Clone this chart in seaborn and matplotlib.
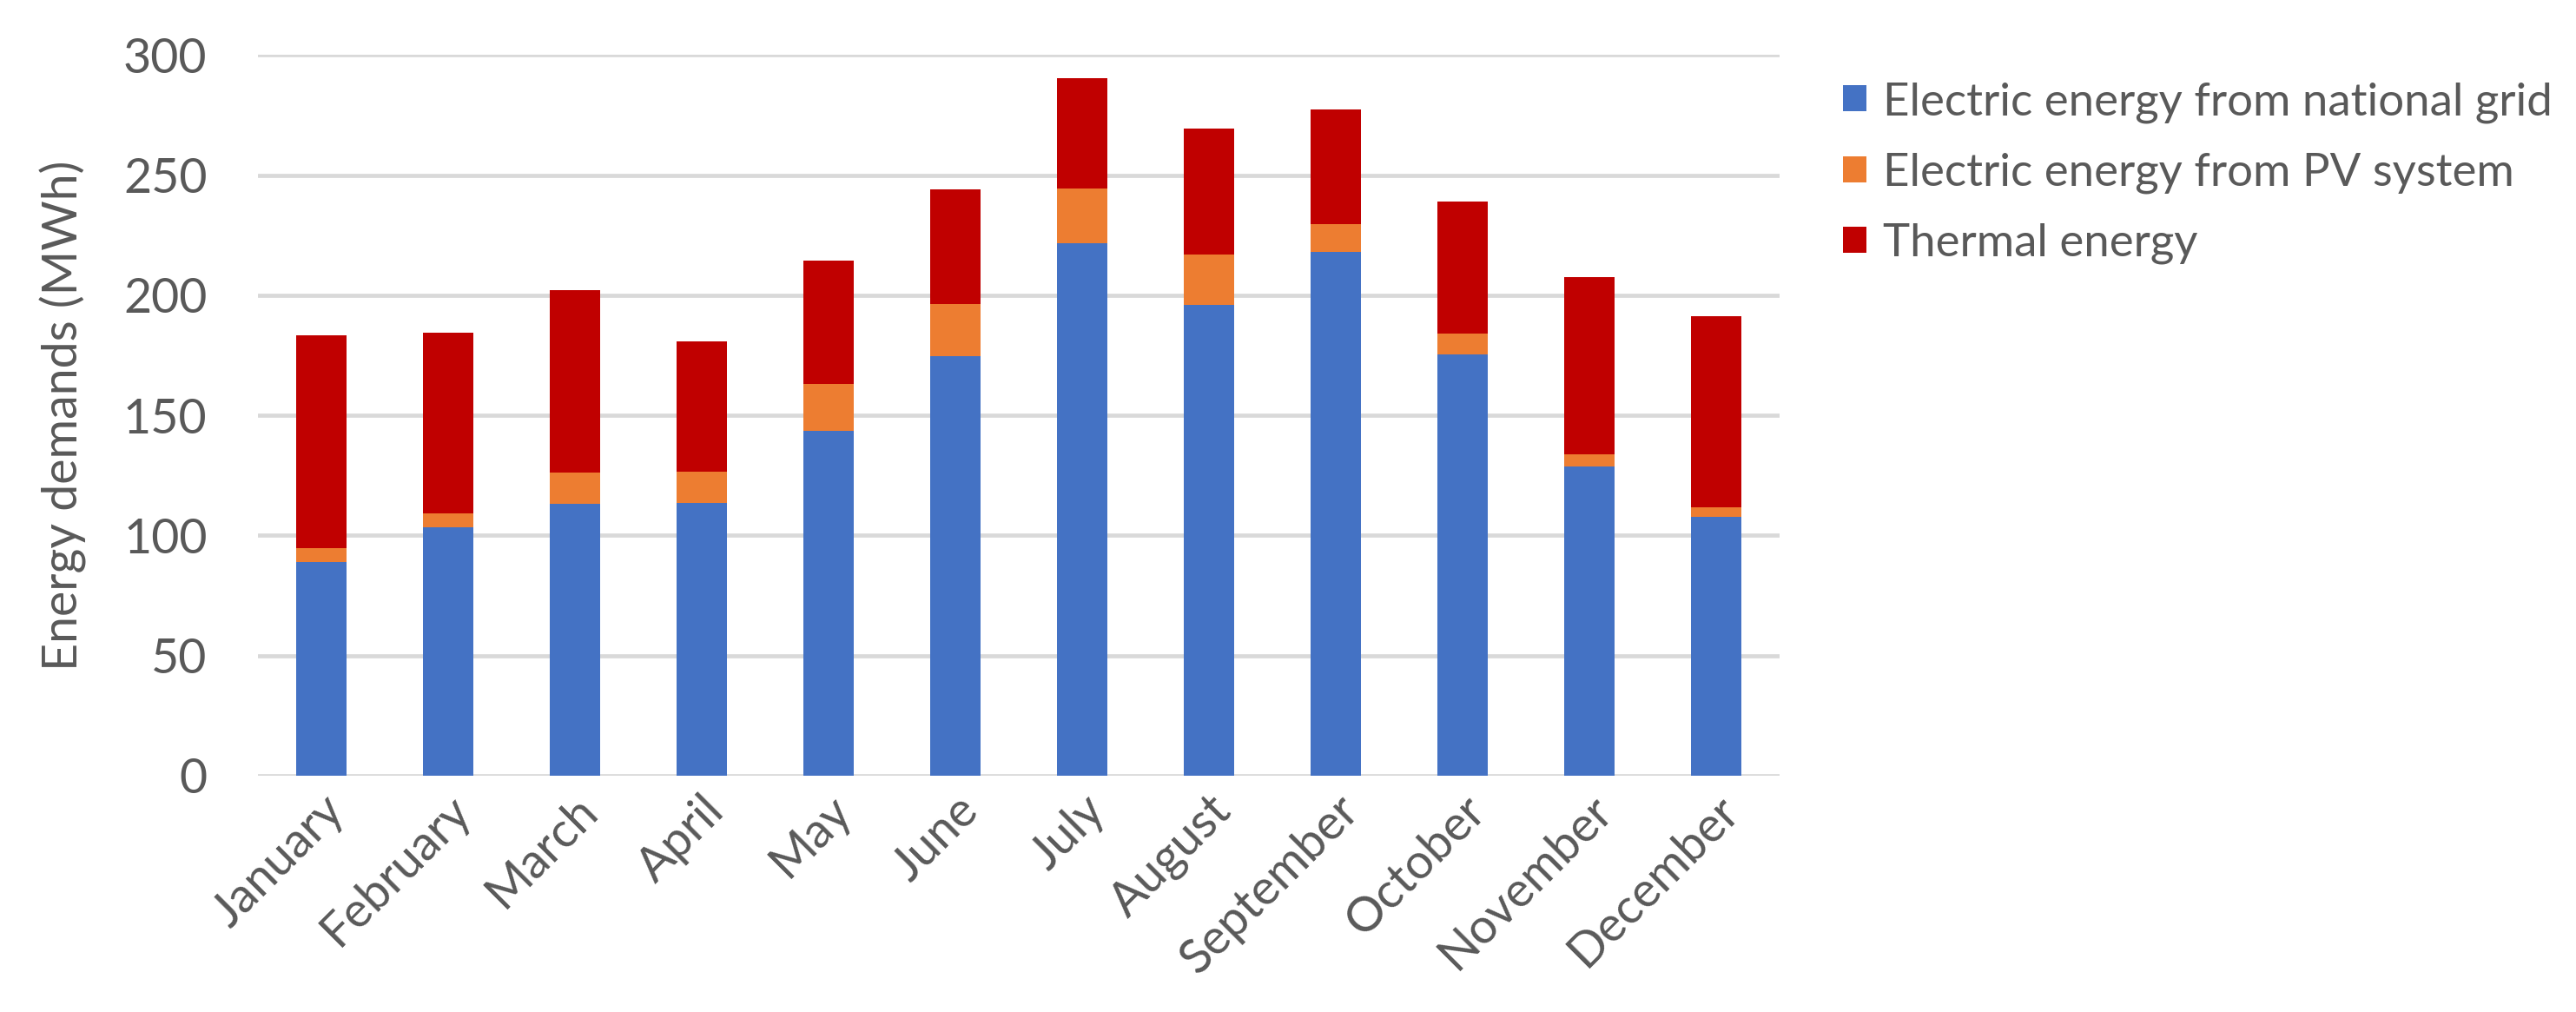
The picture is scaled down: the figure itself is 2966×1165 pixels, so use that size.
import matplotlib
matplotlib.use("Agg")
import matplotlib.pyplot as plt
import seaborn as sns
import pandas as pd
import numpy as np
from matplotlib.patches import Patch

months = ["January", "February", "March", "April", "May", "June", "July",
          "August", "September", "October", "November", "December"]
grid_energy = [89.0, 103.5, 113.2, 113.4, 143.7, 174.6, 221.7, 195.9, 218.1, 175.2, 128.9, 107.9]
pv_energy = [5.9, 5.6, 12.9, 13.3, 19.5, 21.8, 22.6, 20.9, 11.7, 8.9, 4.8, 3.7]
thermal_energy = [88.6, 75.3, 76.0, 54.1, 51.1, 47.6, 46.0, 52.6, 47.4, 54.9, 73.8, 79.6]
series_names = ["Electric energy from national grid", "Electric energy from PV system", "Thermal energy"]
colors = ["#4472C4", "#ED7D31", "#C00000"]
yticks = [0, 50, 100, 150, 200, 250, 300]

sns.set_theme(style="white")
plt.rcParams['font.family'] = ['Lato', 'DejaVu Sans']

df = pd.DataFrame({"month": months, "grid": grid_energy, "pv": pv_energy, "thermal": thermal_energy})
df["lvl1"] = df["grid"]
df["lvl2"] = df["grid"] + df["pv"]
df["lvl3"] = df["lvl2"] + df["thermal"]

fig = plt.figure(figsize=(29.66, 11.65), dpi=100)
ax = fig.add_axes([0.1001, 0.2335, 0.5907, 0.7121])

width = 0.395
for col, c in zip(["lvl3", "lvl2", "lvl1"], [colors[2], colors[1], colors[0]]):
    sns.barplot(data=df, x="month", y=col, color=c, width=width, ax=ax,
                saturation=1, linewidth=0, zorder=3, order=months)

ax.set_ylim(0, 300)
ax.set_xlim(-0.5, 11.5)
ax.set_yticks(yticks)
ax.yaxis.grid(True, color="#D9D9D9", linewidth=3.4, zorder=0)
ax.xaxis.grid(False)
ax.set_axisbelow(True)
for s in ax.spines.values():
    s.set_visible(False)
ax.tick_params(axis="both", length=0, colors="#595959", labelsize=40)
ax.tick_params(axis="y", pad=42)
ax.tick_params(axis="x", pad=10)
plt.setp(ax.get_xticklabels(), rotation=45, ha="right", rotation_mode="anchor", fontsize=40)
ax.set_xlabel("")
ax.set_ylabel("Energy demands (MWh)", fontsize=40, color="#595959", labelpad=30)

handles = [Patch(facecolor=c, edgecolor="none") for c in colors]
leg = fig.legend(handles, series_names, loc="upper left", bbox_to_anchor=(0.6995, 0.960),
                 frameon=False, fontsize=38, handlelength=0.5, handleheight=0.5,
                 handletextpad=0.36, labelspacing=0.64, labelcolor="#595959")

fig.savefig("out.png", dpi=100)
